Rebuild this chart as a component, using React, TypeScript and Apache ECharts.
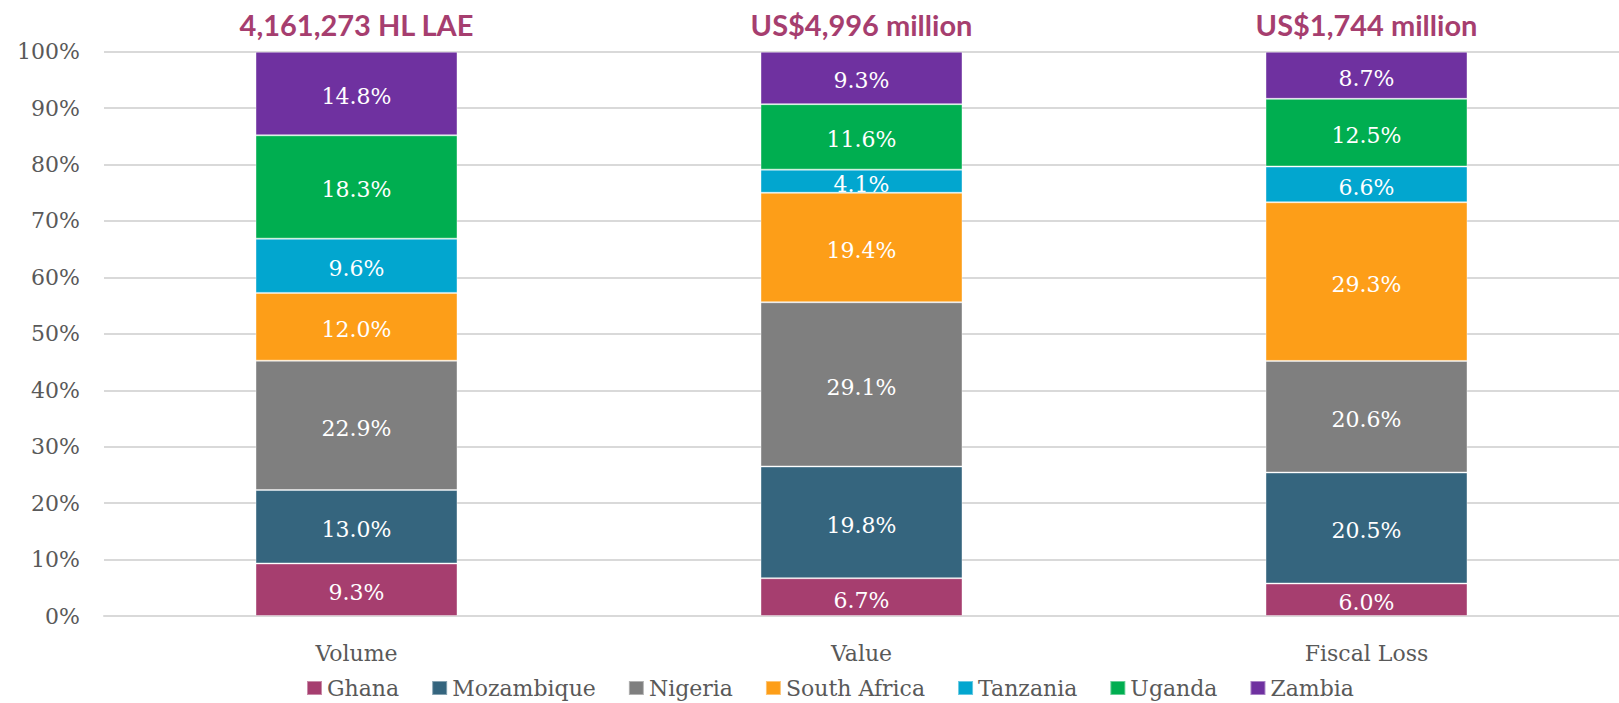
import React, { useEffect, useRef } from "react";
import * as echarts from "echarts";

const categories = ["Volume", "Value", "Fiscal Loss"];
const totals = ["4,161,273 HL LAE", "US$4,996 million", "US$1,744 million"];
const countries = ["Ghana", "Mozambique", "Nigeria", "South Africa", "Tanzania", "Uganda", "Zambia"];
const colors = ["#A63E6F", "#35657E", "#7F7F7F", "#FD9E18", "#02A6CF", "#00AE50", "#6F31A0"];
const ghana = [9.3, 6.7, 6.0];
const mozambique = [13.0, 19.8, 20.5];
const nigeria = [22.9, 29.1, 20.6];
const southAfrica = [12.0, 19.4, 29.3];
const tanzania = [9.6, 4.1, 6.6];
const uganda = [18.3, 11.6, 12.5];
const zambia = [14.8, 9.3, 8.7];
const yTicks = [0, 10, 20, 30, 40, 50, 60, 70, 80, 90, 100];

const seriesValues = [ghana, mozambique, nigeria, southAfrica, tanzania, uganda, zambia];

const SERIF = "'DejaVu Serif', serif";

export default function App() {
  const ref = useRef<HTMLDivElement>(null);
  useEffect(() => {
    if (!ref.current) return;
    const chart = echarts.init(ref.current, undefined, { renderer: "svg" });
    const sums = categories.map((_, i) => seriesValues.reduce((s, arr) => s + arr[i], 0));
    const series: any[] = seriesValues.map((arr, si) => ({
      name: countries[si],
      type: "bar",
      stack: "total",
      barWidth: "40%",
      clip: false,
      itemStyle: { color: colors[si], borderColor: "rgba(255,255,255,0.4)", borderWidth: 1 },
      label: {
        show: true,
        position: "inside",
        offset: [0, 3],
        color: "#ffffff",
        fontFamily: SERIF,
        fontSize: 22,
        formatter: (p: any) => arr[p.dataIndex].toFixed(1) + "%",
      },
      data: arr.map((v, i) => (v / sums[i]) * 100),
    }));
    series.push({
      name: "total",
      type: "bar",
      stack: "total",
      barWidth: "40%",
      clip: false,
      itemStyle: { color: "transparent", borderWidth: 0 },
      label: {
        show: true,
        position: "top",
        distance: 10,
        color: "#A63E6F",
        fontFamily: "Lato, sans-serif",
        fontWeight: "bold",
        fontSize: 29,
        lineHeight: 34,
        formatter: (p: any) => totals[p.dataIndex],
      },
      data: categories.map(() => 0),
    });
    chart.setOption({
      animation: false,
      grid: { left: 104, top: 51.7, width: 1516, bottom: 87, containLabel: false },
      legend: {
        data: countries,
        left: 306,
        top: 677,
        padding: 0,
        icon: "rect",
        itemWidth: 15,
        itemHeight: 14,
        itemGap: 32,
        textStyle: { fontFamily: SERIF, fontSize: 22, color: "#595959" },
      },
      xAxis: {
        type: "category",
        data: categories,
        axisTick: { show: false },
        axisLine: { lineStyle: { color: "#D9D9D9", width: 2 } },
        axisLabel: { fontFamily: SERIF, fontSize: 22, color: "#595959", margin: 26 },
      },
      yAxis: {
        type: "value",
        min: yTicks[0],
        max: yTicks[yTicks.length - 1],
        interval: 10,
        axisLabel: {
          fontFamily: SERIF,
          fontSize: 22,
          color: "#595959",
          margin: 24,
          formatter: (v: number) => v + "%",
        },
        splitLine: { lineStyle: { color: "#D9D9D9", width: 2 } },
        axisLine: { show: false },
        axisTick: { show: false },
      },
      series,
    });
    return () => chart.dispose();
  }, []);
  return (
    <div
      ref={ref}
      style={{ position: "fixed", left: 0, top: 0, width: 1619, height: 703, background: "#ffffff" }}
    />
  );
}
